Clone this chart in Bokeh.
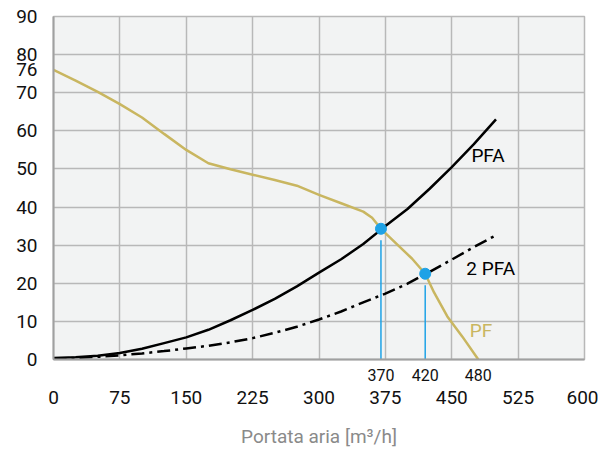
from bokeh.plotting import figure
from bokeh.models import FixedTicker, Range1d, LinearAxis
from bokeh.core.properties import value
from bokeh.embed import file_html
from bokeh.resources import INLINE

# ---- data ----
flow = [0, 25, 50, 75, 100, 125, 150, 175, 200, 225, 250, 275, 300, 325, 350, 375, 400, 425, 450, 475, 500]
pfa = [0.4, 0.6, 1.0, 1.7, 2.8, 4.3, 5.8, 7.8, 10.3, 13.0, 15.9, 19.2, 22.8, 26.3, 30.3, 35.0, 39.5, 44.8, 50.5, 56.5, 63.0]
pfa2 = [0.2, 0.4, 0.7, 1.1, 1.6, 2.2, 2.9, 3.6, 4.5, 5.6, 7.0, 8.6, 10.5, 12.6, 15.0, 17.3, 19.9, 23.0, 26.2, 29.5, 32.6]

pf_flow = [0, 25, 50, 75, 100, 125, 150, 175, 200, 225, 250, 275, 300, 325, 350, 360, 370, 390, 405, 420, 430, 445, 462, 480]
pf = [76, 73.2, 70.2, 67.0, 63.5, 59.2, 55.0, 51.5, 49.9, 48.5, 47.1, 45.6, 43.2, 41.0, 38.8, 37.2, 34.3, 29.8, 26.5, 22.5, 17.6, 11.3, 6.0, 0]

op_flow = [370, 420]
op_press = [34.3, 22.5]
extra_x_labels = [370, 420, 480]

x_ticks = [0, 75, 150, 225, 300, 375, 450, 525, 600]
y_ticks = [0, 10, 20, 30, 40, 50, 60, 70, 76, 80, 90]
y_grid = [0, 10, 20, 30, 40, 50, 60, 70, 80, 90]

FONT = "Roboto"
GRID = "#b8b8b8"
YELLOW = "#c9b660"
BLUE = "#1ea2e6"

p = figure(width=598, height=450, output_backend="svg", toolbar_location=None,
           x_range=Range1d(0, 600), y_range=Range1d(0, 90),
           min_border_left=53, min_border_right=14, min_border_top=16, min_border_bottom=80,
           background_fill_color="#f2f3f3", border_fill_color="white",
           outline_line_color=GRID, outline_line_width=1.5)

main_x = p.xaxis[0]
main_x.ticker = FixedTicker(ticks=x_ticks)
p.yaxis.ticker = FixedTicker(ticks=y_ticks)
p.xgrid.ticker = FixedTicker(ticks=x_ticks)
p.ygrid.ticker = FixedTicker(ticks=y_grid)
p.grid.grid_line_color = GRID
p.grid.grid_line_width = 1.5

# axis with the operating-point labels, closest to the frame
op_axis = LinearAxis(ticker=FixedTicker(ticks=extra_x_labels))
op_axis.major_tick_line_color = None
op_axis.minor_tick_line_color = None
op_axis.axis_line_color = "#a0a0a0"
op_axis.axis_line_width = 2
op_axis.major_label_text_font = FONT
op_axis.major_label_text_font_size = "16px"
op_axis.major_label_text_color = "#111111"
op_axis.major_label_standoff = 3
p.below = [op_axis] + list(p.below)

for ax in (main_x, p.yaxis[0]):
    ax.major_tick_line_color = None
    ax.minor_tick_line_color = None
    ax.axis_line_color = "#a0a0a0"
    ax.axis_line_width = 2
    ax.major_label_text_font = FONT
    ax.major_label_text_font_size = "19px"
    ax.major_label_text_color = "#111111"

main_x.axis_line_color = None
p.yaxis.major_label_standoff = 10
main_x.major_label_standoff = 1
main_x.axis_label = "Portata aria [m³/h]"
main_x.axis_label_text_font = FONT
main_x.axis_label_text_font_style = "normal"
main_x.axis_label_text_font_size = "19px"
main_x.axis_label_text_color = "#8a8a8a"
main_x.axis_label_standoff = 18

# curves
p.line(pf_flow, pf, line_color=YELLOW, line_width=2.5)
p.line(flow, pfa, line_color="black", line_width=2.5)
p.line(flow, pfa2, line_color="black", line_width=2.5, line_dash="13 5 3 5")

# operating points
p.segment(x0=op_flow, y0=[0] * len(op_flow), x1=op_flow, y1=[v - 3 for v in op_press],
          line_color=BLUE, line_width=1.5)
p.scatter(op_flow, op_press, size=11, fill_color=BLUE, line_color=BLUE)

# curve labels
p.text(x=[491], y=[53.5], text=["PFA"], text_align="center", text_baseline="middle",
       text_font=value(FONT), text_font_size="19px", text_color="black")
p.text(x=[494], y=[24], text=["2 PFA"], text_align="center", text_baseline="middle",
       text_font=value(FONT), text_font_size="19px", text_color="black")
p.text(x=[483], y=[7.6], text=["PF"], text_align="center", text_baseline="middle",
       text_font=value(FONT), text_font_size="19px", text_color=YELLOW)

open("out.html", "w").write(file_html(p, INLINE))
